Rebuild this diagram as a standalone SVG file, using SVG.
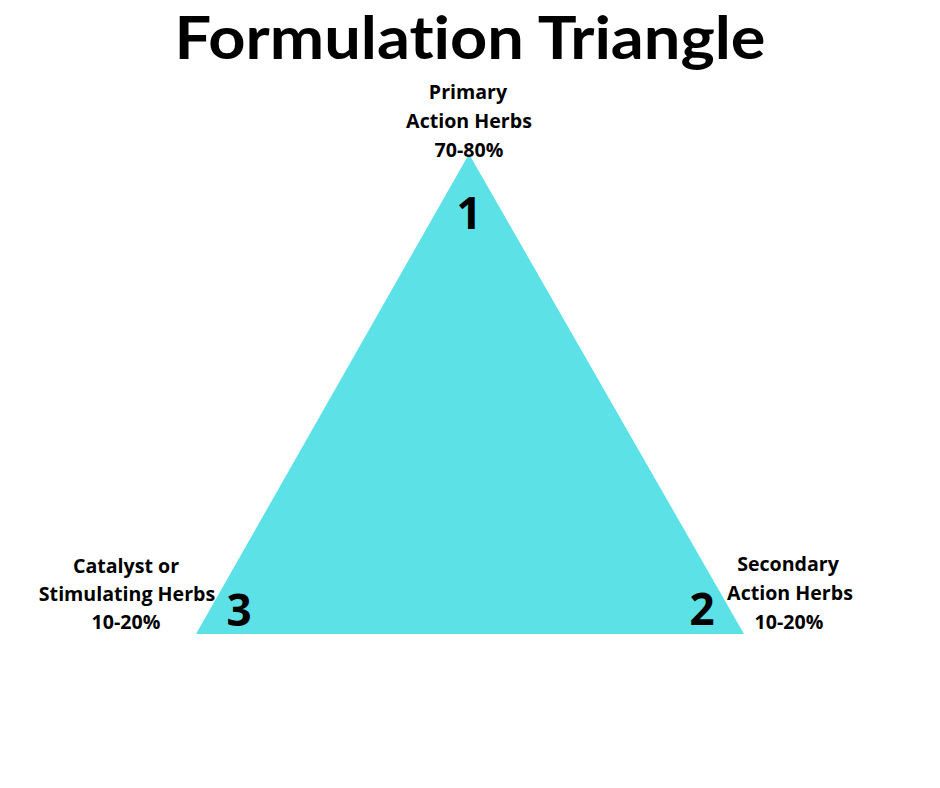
<svg xmlns="http://www.w3.org/2000/svg" width="940" height="788" viewBox="0 0 940 788">
<style>
.t{font-family:"Open Sans","Noto Sans","Liberation Sans",sans-serif;font-weight:700;fill:#000;text-anchor:middle}
.lbl{font-size:19.6px}
.num{font-size:44px}
.title{font-family:Lato,"Open Sans","Liberation Sans",sans-serif;font-weight:700;font-size:59px;fill:#000;text-anchor:middle;font-variant-ligatures:none;font-feature-settings:"liga" 0,"dlig" 0}
</style>
<rect width="940" height="788" fill="#fff"/>
<text class="title" x="470" y="59" textLength="591" lengthAdjust="spacingAndGlyphs">Formulation Triangle</text>
<g id="triangle">
<polygon points="469,154 196,634 744,634" fill="#5CE1E6"/>
</g>
<g id="node1">
<text class="t lbl" x="468" y="99">Primary</text>
<text class="t lbl" x="469" y="128">Action Herbs</text>
<text class="t lbl" x="469" y="157">70-80%</text>
<text class="t num" x="469" y="229">1</text>
</g>
<g id="node2">
<text class="t lbl" x="788" y="571">Secondary</text>
<text class="t lbl" x="790" y="600">Action Herbs</text>
<text class="t lbl" x="789" y="629">10-20%</text>
<text class="t num" x="702" y="625">2</text>
</g>
<g id="node3">
<text class="t lbl" x="126" y="573">Catalyst or</text>
<text class="t lbl" x="127" y="601">Stimulating Herbs</text>
<text class="t lbl" x="126" y="629">10-20%</text>
<text class="t num" x="239" y="626">3</text>
</g>
<g id="connectors"/>
</svg>
